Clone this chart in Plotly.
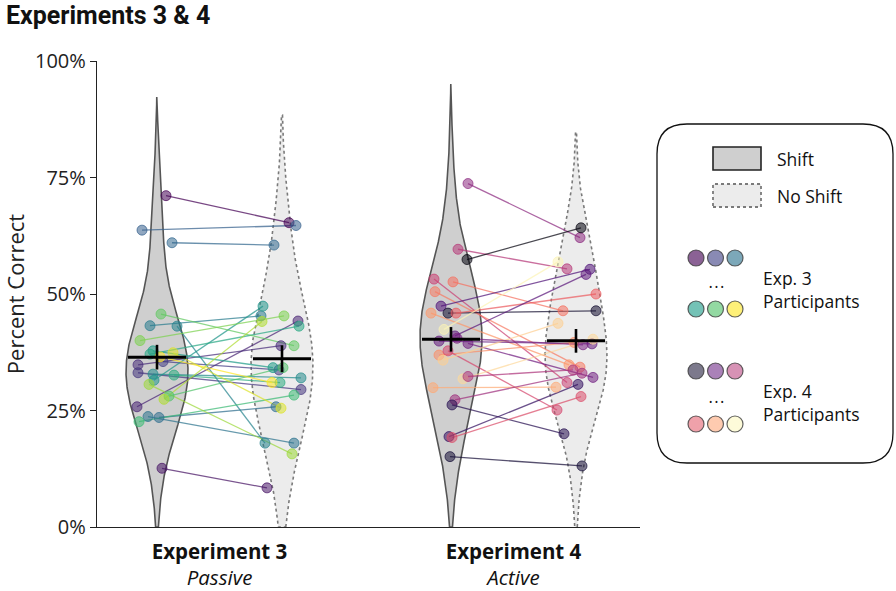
import numpy as np
import plotly.graph_objects as go
from plotly.colors import sample_colorscale, unlabel_rgb, sequential

# ---------------- data (percent correct) ----------------
exp3_shift = [71.1, 12.6, 25.8, 34.8, 33.1, 35.5, 63.7, 61.0, 23.7, 23.5, 43.2, 43.1, 32.8,
              31.5, 37.8, 37.1, 32.6, 22.6, 45.7, 28.1, 40.0, 30.6, 27.4, 37.4, 36.5]
exp3_noshift = [65.3, 8.4, 44.2, 38.9, 29.5, 33.7, 64.7, 60.5, 18.0, 25.8, 45.3, 18.0, 32.0,
                47.4, 34.2, 43.1, 31.0, 28.3, 38.9, 34.2, 45.3, 15.7, 44.1, 25.5, 31.0]
exp3_colorpos = [0.0, 0.05, 0.1, 0.12, 0.15, 0.18, 0.3, 0.33, 0.38, 0.36, 0.42, 0.45, 0.48,
                 0.52, 0.55, 0.6, 0.62, 0.68, 0.75, 0.72, 0.8, 0.85, 0.88, 0.95, 1.0]
exp3_jitter_shift = [9, 5, -20, -19, -19, 6, -15, 15, -9, 2, -7, 20, -4, -3, -4, -7, 17, -18,
                     4, 12, -17, -8, 7, 16, 3]
exp3_jitter_noshift = [7, -15, 16, -1, 19, -3, 14, -8, 12, -6, -21, -17, 19, -19, -9, 17, -2,
                       12, 12, 1, 2, 10, -20, -1, -10]

exp4_shift = [73.7, 59.6, 57.4, 53.2, 52.6, 50.5, 47.4, 45.9, 45.9, 45.9, 42.4, 41.0, 39.9,
              39.4, 36.9, 37.8, 35.8, 31.8, 32.3, 29.9, 27.3, 26.2, 19.4, 19.2, 15.1, 40.5]
exp4_noshift = [62.1, 55.4, 64.2, 31.0, 46.4, 34.3, 55.3, 46.4, 50.0, 34.8, 56.9, 54.2, 39.3,
                32.1, 39.6, 25.1, 43.7, 40.3, 33.7, 30.0, 33.0, 20.0, 30.6, 28.0, 13.1, 39.1]
exp4_colorpos = [0.40, 0.50, 0.02, 0.55, 0.70, 0.72, 0.25, 0.08, 0.65, 0.78, 0.98, 0.28, 0.30,
                 0.33, 0.76, 0.58, 0.90, 0.92, 0.48, 0.82, 0.45, 0.15, 0.18, 0.60, 0.10, 0.35]
exp4_jitter_shift = [17, 7, 16, -17, 2, -16, -10, -3, 5, -20, -7, 4, -12, 17, -12, -3, -8, 12,
                     17, -18, 4, 1, -2, 1, -1, 6]
exp4_jitter_noshift = [4, -9, 5, -9, -13, 4, 14, 20, 20, -7, -18, 10, 16, 17, -2, -19, -18, 17,
                       -3, -20, 6, -12, 2, 5, 6, 7]

group_labels = ["<b>Experiment 3</b><br><i>Passive</i>", "<b>Experiment 4</b><br><i>Active</i>"]
ytick_vals = [0, 25, 50, 75, 100]
ytick_text = ["0%", "25%", "50%", "75%", "100%"]

# ---------------- layout geometry ----------------
W, H = 896, 591
L, R, T, B = 97, 640, 61, 527          # plot area in pixels
PX = 294.0                              # pixels per x unit (distance between groups)
OFF = 62.5 / PX                         # offset of shift / no-shift violins
XR = [(L - 219.5) / PX, (R - 219.5) / PX]
HALFW = 31 / PX
BW_ADJUST = 1.45
CUT = 2.1
FONT = "Open Sans, Noto Sans, DejaVu Sans, sans-serif"


def px_x(p):
    return (p - L) / (R - L)


def px_y(p):
    return (B - p) / (B - T)


def rgba(c, a):
    r, g, b = unlabel_rgb(c)
    return f"rgba({int(r)},{int(g)},{int(b)},{a})"


fig = go.Figure()


def add_violin(vals, center, fill, line_color, dash):
    v = np.asarray(vals, dtype=float)
    bw = BW_ADJUST * v.std(ddof=1) * len(v) ** (-0.2)
    lo = max(0.0, v.min() - CUT * bw)
    hi = min(100.0, v.max() + CUT * bw)
    ys = np.linspace(lo, hi, 400)
    d = np.exp(-0.5 * ((ys[:, None] - v[None, :]) / bw) ** 2).sum(1)
    w = d / d.max() * HALFW
    xs = np.concatenate([center + w, (center - w)[::-1], [center + w[0]]])
    yy = np.concatenate([ys, ys[::-1], [ys[0]]])
    fig.add_trace(go.Scatter(x=xs, y=yy, mode="lines", fill="toself", fillcolor=fill,
                             line=dict(color=line_color, width=1.6, dash=dash),
                             hoverinfo="skip", showlegend=False))


groups = [
    (0, exp3_shift, exp3_noshift, exp3_colorpos, exp3_jitter_shift, exp3_jitter_noshift, "Viridis", 0.55),
    (1, exp4_shift, exp4_noshift, exp4_colorpos, exp4_jitter_shift, exp4_jitter_noshift, sequential.Magma, 0.55),
]

for g, s, ns, cp, js, jn, cs, alpha in groups:
    add_violin(s, g - OFF, "#cfcfcf", "#555555", "solid")
    add_violin(ns, g + OFF, "#ececec", "#7a7a7a", "dot")

for g, s, ns, cp, js, jn, cs, alpha in groups:
    cols = sample_colorscale(cs, cp)
    xl = [g - OFF + j / PX for j in js]
    xr = [g + OFF + j / PX for j in jn]
    for i in range(len(s)):
        fig.add_trace(go.Scatter(x=[xl[i], xr[i]], y=[s[i], ns[i]], mode="lines",
                                 line=dict(color=rgba(cols[i], 0.72), width=1.3),
                                 hoverinfo="skip", showlegend=False))
    fig.add_trace(go.Scatter(x=xl + xr, y=list(s) + list(ns), mode="markers",
                             marker=dict(size=10, color=[rgba(c, alpha) for c in cols] * 2,
                                         line=dict(color=[rgba(c, 0.7) for c in cols] * 2, width=1)),
                             hoverinfo="skip", showlegend=False))

# mean +- SEM crosses
for g, s, ns, cp, js, jn, cs, alpha in groups:
    for vals, cx in ((s, g - OFF), (ns, g + OFF)):
        v = np.asarray(vals, dtype=float)
        m = v.mean()
        sem = v.std(ddof=1) / np.sqrt(len(v))
        fig.add_trace(go.Scatter(x=[cx - 29 / PX, cx + 29 / PX], y=[m, m], mode="lines",
                                 line=dict(color="black", width=3), hoverinfo="skip", showlegend=False))
        fig.add_trace(go.Scatter(x=[cx, cx], y=[m - sem, m + sem], mode="lines",
                                 line=dict(color="black", width=2.6), hoverinfo="skip", showlegend=False))

# ---------------- legend box (drawn) ----------------
shapes = []
annotations = []

bx0, bx1, by0, by1, rad = 657, 893, 124, 463, 30
pts = [
    ("M", bx0 + rad, by0), ("L", bx1 - rad, by0), ("Q", bx1, by0, bx1, by0 + rad),
    ("L", bx1, by1 - rad), ("Q", bx1, by1, bx1 - rad, by1), ("L", bx0 + rad, by1),
    ("Q", bx0, by1, bx0, by1 - rad), ("L", bx0, by0 + rad), ("Q", bx0, by0, bx0 + rad, by0),
]
path = ""
for p in pts:
    cmd = p[0]
    coords = p[1:]
    pairs = [f"{px_x(coords[k]):.5f},{px_y(coords[k + 1]):.5f}" for k in range(0, len(coords), 2)]
    path += cmd + " " + " ".join(pairs) + " "
path += "Z"
shapes.append(dict(type="path", xref="paper", yref="paper", path=path,
                   line=dict(color="#111111", width=1.3), fillcolor="white", layer="below"))

shapes.append(dict(type="rect", xref="paper", yref="paper", x0=px_x(713), x1=px_x(761),
                   y0=px_y(170), y1=px_y(147), fillcolor="#cfcfcf",
                   line=dict(color="#222222", width=1.6)))
shapes.append(dict(type="rect", xref="paper", yref="paper", x0=px_x(713), x1=px_x(761),
                   y0=px_y(207), y1=px_y(184), fillcolor="#ececec",
                   line=dict(color="#7a7a7a", width=1.8, dash="dot")))
for txt, yc in (("Shift", 159), ("No Shift", 196)):
    annotations.append(dict(text=txt, x=px_x(775), y=px_y(yc), xref="paper", yref="paper",
                            xanchor="left", yanchor="middle", showarrow=False,
                            font=dict(family=FONT, size=17.5, color="#111111")))

legend_rows = [
    ("Viridis", [0.0, 0.2, 0.38], 258, [0.55, 0.72, 1.0], 309, 0.62, "Exp. 3", 289, 288),
    (sequential.Magma, [0.08, 0.3, 0.5], 371, [0.62, 0.8, 0.99], 424, 0.55, "Exp. 4", 402, 403),
]
for cs, top_pos, ytop, bot_pos, ybot, a, lab, ylab, ydots in legend_rows:
    for positions, yc in ((top_pos, ytop), (bot_pos, ybot)):
        cols = sample_colorscale(cs, positions)
        for k, c in enumerate(cols):
            xc = 696 + 19.5 * k
            shapes.append(dict(type="circle", xref="paper", yref="paper",
                               x0=px_x(xc - 8), x1=px_x(xc + 8), y0=px_y(yc + 8), y1=px_y(yc - 8),
                               fillcolor=rgba(c, a), line=dict(color="rgba(60,60,60,0.8)", width=1.2)))
    annotations.append(dict(text="• • •", x=px_x(716), y=px_y(ydots - 2), xref="paper", yref="paper",
                            xanchor="center", yanchor="middle", showarrow=False,
                            font=dict(family=FONT, size=9, color="#111111")))
    annotations.append(dict(text=lab + "<br>Participants", x=px_x(761), y=px_y(ylab),
                            xref="paper", yref="paper", align="left",
                            xanchor="left", yanchor="middle", showarrow=False,
                            font=dict(family=FONT, size=17.5, color="#111111")))

# title
annotations.append(dict(text="<b>Experiments 3 &amp; 4</b>", x=px_x(4), y=px_y(15), xref="paper", yref="paper",
                        xanchor="left", yanchor="middle", showarrow=False,
                        font=dict(family="Liberation Sans Narrow, Roboto, Open Sans, sans-serif",
                                  size=25, color="#111111")))

fig.update_layout(
    width=W, height=H,
    margin=dict(l=L, r=W - R, t=T, b=H - B, autoexpand=False),
    paper_bgcolor="white", plot_bgcolor="white",
    font=dict(family=FONT, color="#111111"),
    showlegend=False,
    shapes=shapes, annotations=annotations,
    xaxis=dict(range=XR, showgrid=False, zeroline=False, showline=True, linecolor="#222222",
               linewidth=1.4, tickvals=[0, 1], ticktext=group_labels, ticks="",
               ticklabelstandoff=6,
               tickfont=dict(family=FONT, size=20.5, color="#111111"), fixedrange=True),
    yaxis=dict(range=[0, 100], showgrid=False, zeroline=False, showline=True, linecolor="#222222",
               linewidth=1.4, tickvals=ytick_vals, ticktext=ytick_text, ticks="outside",
               ticklen=6, tickwidth=1.4, tickcolor="#222222",
               tickfont=dict(family=FONT, size=20, color="#222222"),
               title=dict(text="Percent Correct", font=dict(family=FONT, size=22, color="#222222"),
                          standoff=5), fixedrange=True),
)

fig.write_html("out.html", config={"displayModeBar": False},
               post_script="document.body.style.margin='0px';document.body.style.overflow='hidden';")
